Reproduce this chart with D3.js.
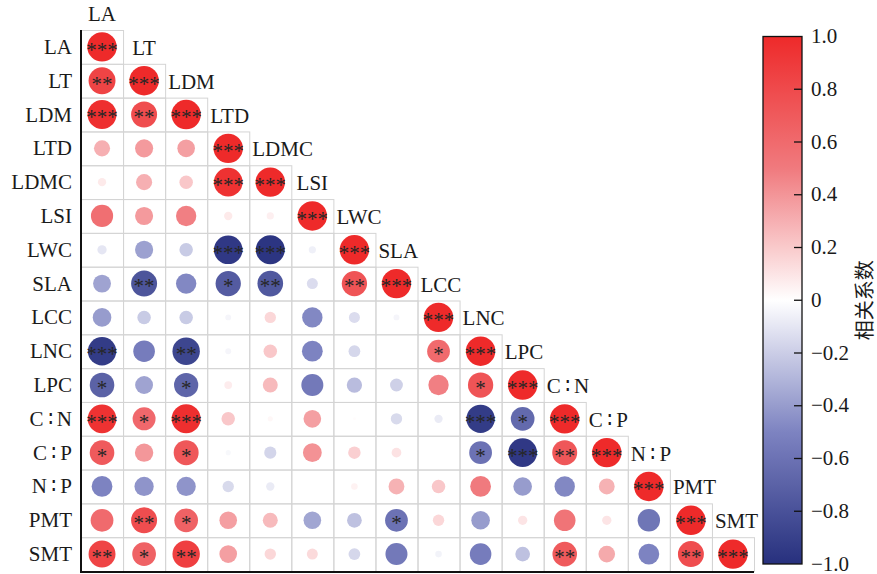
<!DOCTYPE html>
<html>
<head>
<meta charset="utf-8">
<script src="https://cdn.jsdelivr.net/npm/d3@7"></script>
<style>
  body { margin: 0; background: #fff; }
  svg { display: block; }
  text { font-family: "Liberation Serif", "Times New Roman", serif; fill: #1a1a1a; }
</style>
</head>
<body>
<div id="chart"></div>
<script>
// variables, in matrix order
const labels = ["LA", "LT", "LDM", "LTD", "LDMC", "LSI", "LWC", "SLA", "LCC", "LNC", "LPC", "C\u2009∶\u2009N", "C\u2009∶\u2009P", "N\u2009∶\u2009P", "PMT", "SMT"];

// lower triangle of the correlation matrix (row i has i+1 values)
const corr = [
  [1],
  [0.84, 1],
  [0.97, 0.78, 1],
  [0.30, 0.38, 0.36, 1],
  [0.08, 0.30, 0.21, 0.95, 1],
  [0.57, 0.38, 0.48, 0.08, 0.06, 1],
  [-0.10, -0.38, -0.21, -0.95, -0.97, -0.06, 1],
  [-0.37, -0.78, -0.48, -0.74, -0.76, -0.14, 0.74, 1],
  [-0.40, -0.21, -0.21, -0.04, 0.15, -0.48, -0.14, -0.04, 1],
  [-0.93, -0.54, -0.87, -0.04, 0.21, -0.50, -0.16, 0.00, 0.60, 1],
  [-0.70, -0.37, -0.68, 0.07, 0.26, -0.56, -0.27, -0.19, 0.48, 0.74, 1],
  [0.95, 0.61, 0.97, 0.21, 0.03, 0.36, 0.01, -0.15, -0.08, -0.93, -0.65, 1],
  [0.70, 0.39, 0.72, -0.03, -0.17, 0.41, 0.18, 0.11, 0.00, -0.60, -0.95, 0.72, 1],
  [-0.50, -0.43, -0.43, -0.15, -0.08, 0.00, 0.05, 0.29, 0.21, 0.50, -0.40, -0.48, 0.29, 1],
  [0.60, 0.78, 0.65, 0.36, 0.26, -0.36, -0.25, -0.60, 0.15, -0.40, 0.10, 0.54, 0.10, -0.58, 1],
  [0.84, 0.65, 0.87, 0.36, 0.15, 0.14, -0.16, -0.56, -0.05, -0.54, -0.25, 0.70, 0.32, -0.50, 0.78, 1]
];

// significance marks, same shape as corr
const sig = [
  ["***"],
  ["**", "***"],
  ["***", "**", "***"],
  ["", "", "", "***"],
  ["", "", "", "***", "***"],
  ["", "", "", "", "", "***"],
  ["", "", "", "***", "***", "", "***"],
  ["", "**", "", "*", "**", "", "**", "***"],
  ["", "", "", "", "", "", "", "", "***"],
  ["***", "", "**", "", "", "", "", "", "*", "***"],
  ["*", "", "*", "", "", "", "", "", "", "*", "***"],
  ["***", "*", "***", "", "", "", "", "", "", "***", "*", "***"],
  ["*", "", "*", "", "", "", "", "", "", "*", "***", "**", "***"],
  ["", "", "", "", "", "", "", "", "", "", "", "", "", "***"],
  ["", "**", "*", "", "", "", "", "*", "", "", "", "", "", "", "***"],
  ["**", "*", "**", "", "", "", "", "", "", "", "", "**", "", "", "**", "***"]
];

const legendTicks = [1, 0.8, 0.6, 0.4, 0.2, 0, -0.2, -0.4, -0.6, -0.8, -1];
const legendTitle = "相关系数";

const width = 877, height = 574;
const grid = { left: 81, right: 754, top: 30, bottom: 571 };
const bar = { x: 763, w: 39, top: 36.5, bottom: 564 };

const svg = d3.select("#chart").append("svg")
  .attr("width", width)
  .attr("height", height);

const x = d3.scaleBand().domain(labels).range([grid.left, grid.right]);
const y = d3.scaleBand().domain(labels).range([grid.top, grid.bottom]);
const r = d3.scaleSqrt().domain([0, 1]).range([0, 14.7]);
const color = d3.scaleLinear()
  .domain([-1, -0.5, 0, 0.5, 1])
  .range(["#27307e", "#7d83c1", "#ffffff", "#f07a7e", "#ee2a2a"]);

const cells = [];
corr.forEach((row, i) => row.forEach((v, j) => cells.push({ i, j, v, s: sig[i][j] })));

// cell borders
svg.append("g").selectAll("rect")
  .data(cells)
  .join("rect")
  .attr("x", d => x(labels[d.j]) + 0.5)
  .attr("y", d => y(labels[d.i]) + 0.5)
  .attr("width", x.bandwidth())
  .attr("height", y.bandwidth())
  .attr("fill", "none")
  .attr("stroke", "#d4d4d4")
  .attr("stroke-width", 1);

// circles
svg.append("g").selectAll("circle")
  .data(cells)
  .join("circle")
  .attr("cx", d => x(labels[d.j]) + x.bandwidth() / 2)
  .attr("cy", d => y(labels[d.i]) + y.bandwidth() / 2)
  .attr("r", d => r(Math.abs(d.v)))
  .attr("fill", d => color(d.v));

// stars
const starSize = 21;
svg.append("g").selectAll("text")
  .data(cells.filter(d => d.s))
  .join("text")
  .attr("x", d => x(labels[d.j]) + x.bandwidth() / 2)
  .attr("y", d => y(labels[d.i]) + y.bandwidth() / 2 + starSize * 0.47)
  .attr("text-anchor", "middle")
  .style("font-size", starSize + "px")
  .style("fill", "#262626")
  .text(d => d.s);

// row labels
svg.append("g").selectAll("text")
  .data(labels)
  .join("text")
  .attr("x", grid.left - 9)
  .attr("y", d => y(d) + y.bandwidth() / 2 + 7)
  .attr("text-anchor", "end")
  .style("font-size", "21px")
  .text(d => d);

// column labels, just above each diagonal cell
const colLabels = svg.append("g").selectAll("text")
  .data(labels)
  .join("text")
  .attr("y", (d, i) => y(d) - y.bandwidth() / 2 + 8)
  .style("font-size", "21px")
  .text(d => d);
colLabels.each(function (d) {
  const w = this.getComputedTextLength();
  const cx = x(d) + x.bandwidth() / 2;
  d3.select(this).attr("x", Math.max(cx - w / 2, x(d) + 3));
});

// frame lines
svg.append("line")
  .attr("x1", grid.left).attr("x2", grid.left)
  .attr("y1", grid.top).attr("y2", grid.bottom + 1)
  .attr("stroke", "#111").attr("stroke-width", 2);
svg.append("line")
  .attr("x1", grid.left - 1).attr("x2", grid.right)
  .attr("y1", grid.bottom + 1).attr("y2", grid.bottom + 1)
  .attr("stroke", "#111").attr("stroke-width", 2);

// colour bar
const ly = d3.scaleLinear().domain([-1, 1]).range([bar.bottom, bar.top]);
const grad = svg.append("defs").append("linearGradient")
  .attr("id", "cbar")
  .attr("x1", 0).attr("y1", 1).attr("x2", 0).attr("y2", 0);
grad.selectAll("stop")
  .data(d3.range(-1, 1.0001, 0.1))
  .join("stop")
  .attr("offset", d => (d + 1) / 2)
  .attr("stop-color", d => color(d));

svg.append("rect")
  .attr("x", bar.x).attr("y", bar.top)
  .attr("width", bar.w).attr("height", bar.bottom - bar.top)
  .attr("fill", "url(#cbar)")
  .attr("stroke", "#111").attr("stroke-width", 1.3);

const fmt = v => v === 0 ? "0" : d3.format(".1f")(v);
const lg = svg.append("g");
lg.selectAll("line")
  .data(legendTicks.filter(v => Math.abs(v) < 1))
  .join("line")
  .attr("x1", bar.x + bar.w - 8).attr("x2", bar.x + bar.w)
  .attr("y1", d => ly(d)).attr("y2", d => ly(d))
  .attr("stroke", "#111").attr("stroke-width", 1.3);
lg.selectAll("text")
  .data(legendTicks)
  .join("text")
  .attr("x", bar.x + bar.w + 9)
  .attr("y", d => ly(d) + 6.5)
  .style("font-size", "21px")
  .text(fmt);

svg.append("text")
  .attr("transform", `translate(872,${(bar.top + bar.bottom) / 2}) rotate(-90)`)
  .attr("text-anchor", "middle")
  .style("font-family", "'Noto Sans CJK SC', sans-serif")
  .style("font-size", "20px")
  .text(legendTitle);
</script>
</body>
</html>
